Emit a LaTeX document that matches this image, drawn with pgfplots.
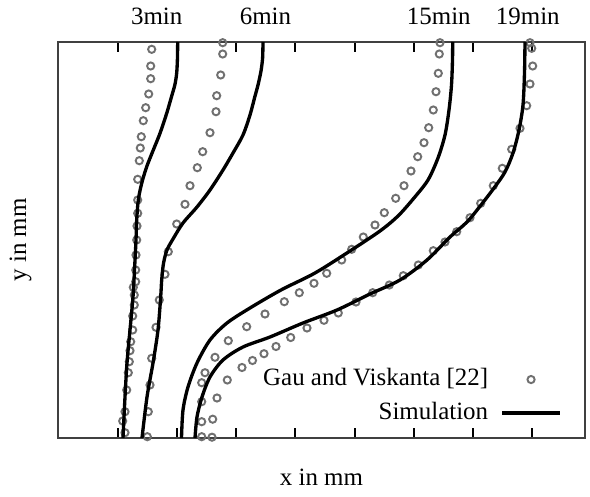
\documentclass[border=0pt]{standalone}
\usepackage{pgfplots}
\pgfplotsset{compat=1.18}
\usepackage{fontspec}
\setmainfont{Liberation Serif}
\pgfplotsset{
  legend image code/.code={\draw[mark repeat=2,mark phase=2,#1] plot coordinates {(0pt,0pt)(21.75pt,0pt)(43.5pt,0pt)};}
}
\begin{document}
\fontsize{18.7pt}{22pt}\selectfont
\begin{tikzpicture}
\begin{axis}[
  name=ax,
  scale only axis,
  width=395.25pt, height=297pt,
  xmin=58, xmax=585, ymin=0, ymax=396,
  axis line style={black!75, line width=0.8pt},
  xtick={118,177,236,295,355,414,473,532},
  xticklabels={,,,,,,,},
  ytick=\empty,
  tick align=inside,
  major tick length=7.5pt,
  tick style={black, line width=0.8pt},
  clip mode=individual,
  xlabel={x in mm}, ylabel={y in mm},
  every axis x label/.style={at={(axis description cs:0.5,-0.1212)}, anchor=base},
  every axis y label/.style={at={(axis description cs:-0.0607,0.5)}, rotate=90, anchor=base},
  legend plot pos=right,
  legend cell align=right,
  legend style={at={(axis cs:562,8)}, anchor=south east, draw=none, fill=none,
    inner sep=0pt, column sep=6pt,
    nodes={text height=0.75em, text depth=0.25em, inner sep=3.2pt}},
]
% Experimental data (Gau and Viskanta)
\addplot[only marks, mark=o, mark size=2.7pt, black!56, mark options={line width=1.45pt}] coordinates {
(151.7,388.7)(150.7,372)(150.7,359.3)(148.7,344)(145.7,330.3)(143.3,317.3)(141.3,301.3)(140.3,290)(139.3,277.3)(137.7,258.7)(137.7,238)(137.7,224.7)(137,212)(136.7,198)(136,183)(135.7,168)(135.7,156.3)(133.3,150.7)(134.3,143)(134.3,133)(132.7,122)(132.7,108)(130.7,96.3)(130,87.3)(129.3,76.3)(128.3,65.3)(126.7,48)(125,26.3)(122.7,17)(125,5.3)
(222.7,395.3)(222.7,384)(220.7,363)(216.7,342.3)(216,326.3)(210,305.3)(202.7,286.3)(197.3,270.3)(190,252.3)(185,233.7)(176.7,214)(168.3,186.3)(165,163.7)(159.3,138)(156,110.7)(151.7,79.7)(150,53)(148.3,26.3)(147.3,1.3)
(440,395.3)(439.3,384)(438.3,364.7)(436,346.3)(433.3,328)(428.7,310.3)(424,295.3)(417.7,281.3)(411,267)(404,252.3)(395.7,239.7)(384.3,225.3)(375,213)(363.3,201)(351.7,188.7)(341.7,178)(326.7,164.7)(314,154.7)(299.3,145.3)(284.3,136.3)(265,124)(246.7,111.3)(228.3,97.3)(215,80.7)(205,65.3)(201.7,55.3)(201.7,36.3)(201.7,16.3)(201.7,1.3)
(530,395.3)(531.7,389.7)(532.7,372)(530,354)(526.7,332.3)(520,309.7)(511.7,288.7)(502.3,269.7)(493.3,252.3)(480.7,234.7)(470,220.3)(456.7,206.3)(445,196)(433.3,187.3)(418.3,173)(403.3,162.3)(389.3,153)(372.7,145.3)(356,136)(338.3,125)(324,117.7)(307,110)(290.7,100.5)(276,91.5)(264,84.3)(252.5,77.5)(242,70.5)(227.3,58)(217,40)(212.7,18.8)(212,0.8)
};
\addlegendentry{Gau and Viskanta [22]}
% Simulation 3 min
\addplot[black, line width=2.5pt, smooth] coordinates {
(177.7,396)(177.4,378)(176.6,364)(174.8,353)(171.7,342)(166.7,324.7)(160,304.7)(153.3,288)(146.7,271.3)(141.7,254.7)(138.3,238)(136.7,218)(136,198)(134.5,168)(133,141)(130,108)(127,75)(125,41)(123,0)
};
\addlegendentry{Simulation}
% Simulation 6 min
\addplot[black, line width=2.5pt, smooth, forget plot] coordinates {
(263,396)(262.6,380)(261,367)(258,353)(254.5,340)(250,323)(243,303)(233,285)(223,268)(210,248)(197,231)(183,215)(173,199)(167,188)(163.5,174.7)(161.7,158)(160.7,141.3)(158,108)(153,75)(147,41)(142,0)
};
% Simulation 15 min
\addplot[black, line width=2.5pt, smooth, forget plot] coordinates {
(452.7,396)(452.5,378)(451.5,353)(449,328)(445,303)(438,280)(428,258)(414,240)(398,222)(380,207)(350,187)(315,165)(281,148)(250,130)(227,115)(210,98)(197,75)(188,51)(183,28)(181.5,0)
};
% Simulation 19 min
\addplot[black, line width=2.5pt, smooth, forget plot] coordinates {
(525,396)(524.5,365)(523,333)(519,308)(513,285)(505,266)(494,250)(481,233)(467,216)(450,201)(427,178)(400,158)(370,144)(337,128)(303,115)(270,101)(243,91)(223,78)(210,61)(202,41)(197,21)(195,0)
};
\node[anchor=base, yshift=13pt] at (axis cs:156.7,396) {3min};
\node[anchor=base, yshift=13pt] at (axis cs:265.5,396) {6min};
\node[anchor=base, yshift=13pt] at (axis cs:438.8,396) {15min};
\node[anchor=base, yshift=13pt] at (axis cs:527.8,396) {19min};
\end{axis}
\pgfresetboundingbox
\path[use as bounding box] ([xshift=-43.5pt,yshift=-44.25pt]ax.south west) rectangle ([xshift=3.75pt,yshift=31.5pt]ax.north east);
\end{tikzpicture}
\end{document}
